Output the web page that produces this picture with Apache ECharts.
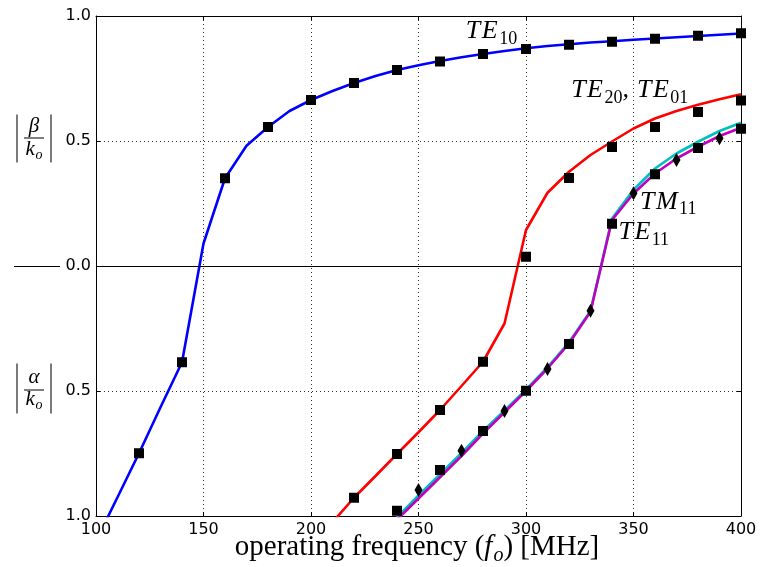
<!DOCTYPE html>
<html><head><meta charset="utf-8">
<script src="https://cdn.jsdelivr.net/npm/echarts@6/dist/echarts.min.js"></script>
<style>html,body{margin:0;padding:0;background:#fff}#c{width:768px;height:567px}</style>
</head><body><div id="c"></div>
<script>
// ---------- data ----------
const xTicks = [100, 150, 200, 250, 300, 350, 400];
const yTicks = [-1.0, -0.5, 0.0, 0.5, 1.0];

const te10Freq = [100,110,120,130,140,150,160,170,180,190,200,210,220,230,240,250,260,270,280,290,300,310,320,330,340,350,360,370,380,390,400];
const te10Line = [-1.10,-0.925,-0.749,-0.565,-0.385,0.09,0.351,0.481,0.556,0.62,0.664,0.70,0.732,0.76,0.784,0.803,0.82,0.835,0.848,0.86,0.871,0.88,0.887,0.894,0.899,0.905,0.91,0.915,0.92,0.925,0.93];
const te10MarkFreq = [120,140,160,180,200,220,240,260,280,300,320,340,360,380,400];
const te10Mark = [-0.749,-0.385,0.351,0.556,0.664,0.732,0.784,0.818,0.848,0.868,0.885,0.897,0.909,0.921,0.931];

const te20Freq = [200,210,220,230,240,250,260,270,280,290,300,310,320,330,340,350,360,370,380,390,400];
const te20Line = [-1.12,-1.025,-0.927,-0.84,-0.752,-0.665,-0.576,-0.48,-0.383,-0.23,0.144,0.293,0.377,0.444,0.498,0.55,0.59,0.62,0.645,0.667,0.687];
const te20MarkFreq = [220,240,260,280,300,320,340,360,380,400];
const te20Mark = [-0.927,-0.752,-0.576,-0.383,0.037,0.352,0.476,0.556,0.616,0.662];

const mode11Freq = [240,250,260,270,280,290,300,310,320,330,340,350,360,370,380,390,400];
const tm11Line = [-1.005,-0.918,-0.833,-0.748,-0.66,-0.578,-0.495,-0.405,-0.305,-0.18,0.19,0.305,0.39,0.45,0.497,0.54,0.573];
const te11Line = [-1.015,-0.93,-0.845,-0.76,-0.67,-0.585,-0.50,-0.41,-0.31,-0.183,0.184,0.29,0.37,0.43,0.477,0.52,0.553];
const te11MarkFreq = [240,260,280,300,320,340,360,380,400];
const te11Mark = [-0.979,-0.816,-0.66,-0.499,-0.312,0.169,0.367,0.472,0.549];
const tm11MarkFreq = [250,270,290,310,330,350,370,390];
const tm11Mark = [-0.896,-0.739,-0.58,-0.412,-0.179,0.291,0.424,0.511];

// annotation anchors (data coordinates: left edge, baseline)
const labelTE10 = [272, 0.905];
const labelTE20 = [321, 0.668];
const labelTM11 = [353, 0.222];
const labelTE11 = [343, 0.10];

// ---------- chart ----------
const pairs = (xs, ys) => xs.map((x, i) => [x, ys[i]]);
const chart = echarts.init(document.getElementById('c'), null, {renderer: 'canvas'});

const BLUE = '#0000ff', RED = '#ff0000', CYAN = '#00bfbf', MAG = '#bf00bf';
const lineS = (name, xs, ys, color, z) => ({
  name, type: 'line', data: pairs(xs, ys), symbol: 'none', showSymbol: false,
  lineStyle: {color, width: 2.6, opacity: 1}, itemStyle: {color}, clip: true, z, animation: false
});
const markS = (name, xs, ys, symbol, size) => ({
  name, type: 'scatter', data: pairs(xs, ys), symbol, symbolSize: size,
  itemStyle: {color: '#000', opacity: 1, borderWidth: 0}, emphasis: {disabled: true},
  z: 10, animation: false, clip: false
});

const gridLine = {show: true, lineStyle: {color: '#333', width: 1, type: [1, 3]}};
const axLine = {show: true, onZero: false, lineStyle: {color: '#000', width: 1}};
const axTick = {show: true, inside: true, length: 4, lineStyle: {color: '#000', width: 1}};

const te10 = lineS('TE10', te10Freq, te10Line, BLUE, 2);
te10.markLine = {
  silent: true, symbol: 'none', label: {show: false}, animation: false,
  lineStyle: {color: '#000', type: 'solid', width: 1.2, opacity: 1},
  data: [{yAxis: 0}]
};

chart.setOption({
  animation: false,
  backgroundColor: '#fff',
  grid: {left: 96, right: 27, top: 16, bottom: 51, containLabel: false, outerBoundsMode: 'none'},
  xAxis: [
    {type: 'value', position: 'bottom', min: xTicks[0], max: xTicks[xTicks.length-1], interval: 50,
     axisLine: axLine, axisTick: axTick, splitLine: gridLine,
     axisLabel: {color: '#000', fontFamily: 'DejaVu Sans', fontSize: 16, margin: 6}},
    {type: 'value', position: 'top', min: xTicks[0], max: xTicks[xTicks.length-1], interval: 50,
     axisLine: axLine, axisTick: axTick, splitLine: {show: false}, axisLabel: {show: false}}
  ],
  yAxis: [
    {type: 'value', position: 'left', min: yTicks[0], max: yTicks[yTicks.length-1], interval: 0.5,
     axisLine: axLine, axisTick: axTick, splitLine: gridLine,
     axisLabel: {color: '#000', fontFamily: 'DejaVu Sans', fontSize: 16, margin: 5,
       formatter: v => Math.abs(v).toFixed(1)}},
    {type: 'value', position: 'right', min: yTicks[0], max: yTicks[yTicks.length-1], interval: 0.5,
     axisLine: axLine, axisTick: axTick, splitLine: {show: false}, axisLabel: {show: false}}
  ],
  series: [
    te10,
    lineS('TE20', te20Freq, te20Line, RED, 3),
    lineS('TM11', mode11Freq, tm11Line, CYAN, 4),
    lineS('TE11', mode11Freq, te11Line, MAG, 5),
    markS('TE10 pts', te10MarkFreq, te10Mark, 'rect', 10),
    markS('TE20 pts', te20MarkFreq, te20Mark, 'rect', 10),
    markS('TE11 pts', te11MarkFreq, te11Mark, 'rect', 10),
    markS('TM11 pts', tm11MarkFreq, tm11Mark, 'diamond', [8, 14])
  ]
});

// ---------- text annotations ----------
const mctx = document.createElement('canvas').getContext('2d');
const FAM = '"Liberation Serif"';
function measure(p) {
  mctx.font = (p.it ? 'italic ' : '') + p.s + 'px ' + FAM;
  return mctx.measureText(p.t).width;
}
const MID = 0.33; // baseline offset from text middle (em)
function mathText(pieces, x0, base, centered) {
  const ws = pieces.map(p => measure(p) + (p.sp || 0));
  const total = ws.reduce((a, b) => a + b, 0);
  let x = centered ? x0 - total / 2 : x0;
  return pieces.map((p, i) => {
    const el = {type: 'text', x: x, y: base + (p.dy || 0) - MID * p.s, silent: true, z: 100,
      style: {text: p.t, fontSize: p.s, fontStyle: p.it ? 'italic' : 'normal', fontFamily: 'Liberation Serif',
        fill: '#000', align: 'left', verticalAlign: 'middle'}};
    x += ws[i];
    return el;
  });
}
const BIG = 26, SUB = 18, SDY = 5;
const L = (t) => ({t, it: true, s: BIG, sp: 1.5});
const S = (t) => ({t, it: false, s: SUB, dy: SDY});
const px = (pt) => chart.convertToPixel({xAxisIndex: 0, yAxisIndex: 0}, pt);

const graphics = [];
let p = px(labelTE10);
graphics.push(...mathText([L('T'), L('E'), S('10')], p[0], p[1]));
p = px(labelTE20);
graphics.push(...mathText([L('T'), L('E'), S('20'), {t: ',', it: true, s: BIG, sp: 8}, L('T'), L('E'), S('01')], p[0], p[1]));
p = px(labelTM11);
graphics.push(...mathText([L('T'), L('M'), S('11')], p[0], p[1]));
p = px(labelTE11);
graphics.push(...mathText([L('T'), L('E'), S('11')], p[0], p[1]));

// x axis title
graphics.push(...mathText([
  {t: 'operating frequency (', it: false, s: 29},
  {t: 'f', it: true, s: 29, sp: 1},
  {t: 'o', it: true, s: 20, dy: 5},
  {t: ') [MHz]', it: false, s: 29}
], 417, 557, true));

// y axis fraction labels
function fracLabel(sym, top, bottom, barY, symBase, kBase) {
  const stroke = {stroke: '#222', lineWidth: 1.2};
  const out = [
    {type: 'line', silent: true, shape: {x1: 17, y1: top, x2: 17, y2: bottom}, style: stroke},
    {type: 'line', silent: true, shape: {x1: 51, y1: top, x2: 51, y2: bottom}, style: stroke},
    {type: 'line', silent: true, shape: {x1: 24, y1: barY, x2: 44, y2: barY}, style: {stroke: '#000', lineWidth: 1}}
  ];
  out.push(...mathText([{t: sym, it: true, s: 21}], 34, symBase, true));
  out.push(...mathText([{t: 'k', it: true, s: 21, sp: 0.5}, {t: 'o', it: true, s: 14, dy: 3}], 34, kBase, true));
  return out;
}
const y0 = Math.round(px([100, 0])[1]) + 0.5;
graphics.push(...fracLabel('β', y0 - 152, y0 - 104, y0 - 128.5, y0 - 133, y0 - 110));
graphics.push(...fracLabel('α', y0 + 97, y0 + 147, y0 + 123.5, y0 + 118, y0 + 140));

// zero line stub left of the axis
graphics.push({type: 'line', silent: true, shape: {x1: 14, y1: y0, x2: 60, y2: y0}, style: {stroke: '#000', lineWidth: 1}});

chart.setOption({graphic: graphics});
</script>
</body></html>
